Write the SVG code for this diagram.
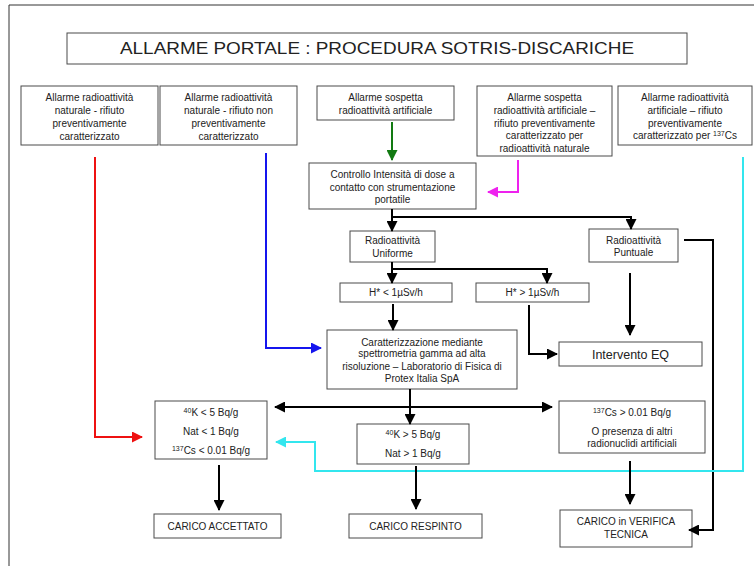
<svg xmlns="http://www.w3.org/2000/svg" width="754" height="566" viewBox="0 0 754 566">
<style>
.bx{fill:#fff;stroke:#4a4a4a;stroke-width:1}
.t{font-family:"Liberation Sans",Arial,sans-serif;font-size:10px;fill:#222;text-anchor:middle}
.ln{fill:none;stroke-width:2}
.k{stroke:#000}
.r{stroke:#ee1111}
.b{stroke:#1515ee}
.g{stroke:#127a12}
.m{stroke:#ee22ee}
.c{stroke:#33e6ee}
</style>
<defs>
<marker id="ak" markerUnits="userSpaceOnUse" markerWidth="11" markerHeight="11" refX="10" refY="5.5" orient="auto-start-reverse"><path d="M0,0 L11,5.5 L0,11 z" fill="#000"/></marker>
<marker id="ar" markerUnits="userSpaceOnUse" markerWidth="11" markerHeight="11" refX="10" refY="5.5" orient="auto"><path d="M0,0 L11,5.5 L0,11 z" fill="#ee1111"/></marker>
<marker id="ab" markerUnits="userSpaceOnUse" markerWidth="11" markerHeight="11" refX="10" refY="5.5" orient="auto"><path d="M0,0 L11,5.5 L0,11 z" fill="#1515ee"/></marker>
<marker id="ag" markerUnits="userSpaceOnUse" markerWidth="11" markerHeight="11" refX="10" refY="5.5" orient="auto"><path d="M0,0 L11,5.5 L0,11 z" fill="#127a12"/></marker>
<marker id="am" markerUnits="userSpaceOnUse" markerWidth="11" markerHeight="11" refX="10" refY="5.5" orient="auto"><path d="M0,0 L11,5.5 L0,11 z" fill="#ee22ee"/></marker>
<marker id="ac" markerUnits="userSpaceOnUse" markerWidth="11" markerHeight="11" refX="10" refY="5.5" orient="auto"><path d="M0,0 L11,5.5 L0,11 z" fill="#33e6ee"/></marker>
</defs>
<rect width="754" height="566" fill="#fff"/>
<path d="M754,5 H9 V566" fill="none" stroke="#333" stroke-width="1"/>

<g id="title">
<rect class="bx" x="67" y="33" width="620" height="31"/>
<text class="t" x="377" y="54" font-size="17" style="font-size:17px" textLength="514" lengthAdjust="spacingAndGlyphs">ALLARME PORTALE : PROCEDURA SOTRIS-DISCARICHE</text>
</g>

<g id="n1">
<rect class="bx" x="21" y="86" width="137" height="59"/>
<text class="t" x="89.5" y="101">Allarme radioattività</text>
<text class="t" x="89.5" y="114">naturale - rifiuto</text>
<text class="t" x="89.5" y="127">preventivamente</text>
<text class="t" x="89.5" y="140">caratterizzato</text>
</g>
<g id="n2">
<rect class="bx" x="160" y="86" width="137" height="59"/>
<text class="t" x="228.5" y="101">Allarme radioattività</text>
<text class="t" x="228.5" y="114">naturale - rifiuto non</text>
<text class="t" x="228.5" y="127">preventivamente</text>
<text class="t" x="228.5" y="140">caratterizzato</text>
</g>
<g id="n3">
<rect class="bx" x="317" y="86" width="137" height="34"/>
<text class="t" x="385.5" y="101">Allarme sospetta</text>
<text class="t" x="385.5" y="114">radioattività artificiale</text>
</g>
<g id="n4">
<rect class="bx" x="477" y="86" width="135" height="70"/>
<text class="t" x="544.5" y="101">Allarme sospetta</text>
<text class="t" x="544.5" y="114">radioattività artificiale –</text>
<text class="t" x="544.5" y="127">rifiuto preventivamente</text>
<text class="t" x="544.5" y="139">caratterizzato per</text>
<text class="t" x="544.5" y="152">radioattività naturale</text>
</g>
<g id="n5">
<rect class="bx" x="618" y="86" width="134" height="59"/>
<text class="t" x="685" y="101">Allarme radioattività</text>
<text class="t" x="685" y="114">artificiale – rifiuto</text>
<text class="t" x="685" y="127">preventivamente</text>
<text class="t" x="685" y="139">caratterizzato per <tspan style="font-size:7px" dy="-3">137</tspan><tspan dy="3">Cs</tspan></text>
</g>

<g id="controllo">
<rect class="bx" x="309" y="163" width="167" height="46"/>
<text class="t" x="392.5" y="178">Controllo Intensità di dose a</text>
<text class="t" x="392.5" y="191">contatto con strumentazione</text>
<text class="t" x="392.5" y="203">portatile</text>
</g>
<g id="uniforme">
<rect class="bx" x="350" y="231" width="85" height="31"/>
<text class="t" x="392.5" y="244">Radioattività</text>
<text class="t" x="392.5" y="257">Uniforme</text>
</g>
<g id="puntuale">
<rect class="bx" x="589" y="229" width="89" height="33"/>
<text class="t" x="633.5" y="244">Radioattività</text>
<text class="t" x="633.5" y="256">Puntuale</text>
</g>
<g id="hlow">
<rect class="bx" x="340" y="283" width="112" height="19"/>
<text class="t" x="396" y="296">H* &lt; 1µSv/h</text>
</g>
<g id="hhigh">
<rect class="bx" x="476" y="283" width="113" height="19"/>
<text class="t" x="532.5" y="296">H* &gt; 1µSv/h</text>
</g>
<g id="caratt">
<rect class="bx" x="327" y="330" width="190" height="59"/>
<text class="t" x="422" y="346">Caratterizzazione mediante</text>
<text class="t" x="422" y="357">spettrometria gamma ad alta</text>
<text class="t" x="422" y="370">risoluzione – Laboratorio di Fisica di</text>
<text class="t" x="422" y="382">Protex Italia SpA</text>
</g>
<g id="intervento">
<rect class="bx" x="559" y="342" width="143" height="24"/>
<text class="t" x="630.5" y="359" style="font-size:12.5px">Intervento EQ</text>
</g>
<g id="klow">
<rect class="bx" x="155" y="401" width="112" height="58"/>
<text class="t" x="211" y="416"><tspan style="font-size:7px" dy="-3">40</tspan><tspan dy="3">K &lt; 5 Bq/g</tspan></text>
<text class="t" x="211" y="435">Nat &lt; 1 Bq/g</text>
<text class="t" x="211" y="454"><tspan style="font-size:7px" dy="-3">137</tspan><tspan dy="3">Cs &lt; 0.01 Bq/g</tspan></text>
</g>
<g id="khigh">
<rect class="bx" x="357" y="424" width="112" height="40"/>
<text class="t" x="413" y="438"><tspan style="font-size:7px" dy="-3">40</tspan><tspan dy="3">K &gt; 5 Bq/g</tspan></text>
<text class="t" x="413" y="457">Nat &gt; 1 Bq/g</text>
</g>
<g id="cshigh">
<rect class="bx" x="559" y="401" width="146" height="52"/>
<text class="t" x="632" y="416"><tspan style="font-size:7px" dy="-3">137</tspan><tspan dy="3">Cs &gt; 0.01 Bq/g</tspan></text>
<text class="t" x="632" y="435">O presenza di altri</text>
<text class="t" x="632" y="447">radionuclidi artificiali</text>
</g>
<g id="accettato">
<rect class="bx" x="154" y="514" width="127" height="24"/>
<text class="t" x="217.5" y="530">CARICO ACCETTATO</text>
</g>
<g id="respinto">
<rect class="bx" x="349" y="514" width="133" height="24"/>
<text class="t" x="415.5" y="530">CARICO RESPINTO</text>
</g>
<g id="verifica">
<rect class="bx" x="560" y="510" width="132" height="37"/>
<text class="t" x="626" y="525">CARICO in VERIFICA</text>
<text class="t" x="626" y="538">TECNICA</text>
</g>

<g id="connectors">
<path class="ln g" d="M392,122 V160" marker-end="url(#ag)"/>
<path class="ln m" d="M518,160 V192 H488" marker-end="url(#am)"/>
<path class="ln k" d="M392,209 V231" marker-end="url(#ak)"/>
<path class="ln k" d="M392,217 H631 V229" marker-end="url(#ak)"/>
<path class="ln k" d="M392,262 V283" marker-end="url(#ak)"/>
<path class="ln k" d="M392,269 H547 V283" marker-end="url(#ak)"/>
<path class="ln k" d="M393,304 V330" marker-end="url(#ak)"/>
<path class="ln k" d="M529,305 V354 H557" marker-end="url(#ak)"/>
<path class="ln k" d="M630,273 V335" marker-end="url(#ak)"/>
<path class="ln k" d="M684,240 H713 V530 H689" marker-end="url(#ak)"/>
<path class="ln b" d="M266,153 V348 H321" marker-end="url(#ab)"/>
<path class="ln r" d="M95,157 V437 H142" marker-end="url(#ar)"/>
<path class="ln k" d="M410,389 V424" marker-end="url(#ak)"/>
<path class="ln k" d="M275,407 H552" marker-start="url(#ak)" marker-end="url(#ak)"/>
<path class="ln c" d="M743,157 V471 H315 V442 H276" marker-end="url(#ac)"/>
<path class="ln k" d="M219,465 V510" marker-end="url(#ak)"/>
<path class="ln k" d="M416,466 V509" marker-end="url(#ak)"/>
<path class="ln k" d="M630,461 V504" marker-end="url(#ak)"/>
</g>
</svg>
